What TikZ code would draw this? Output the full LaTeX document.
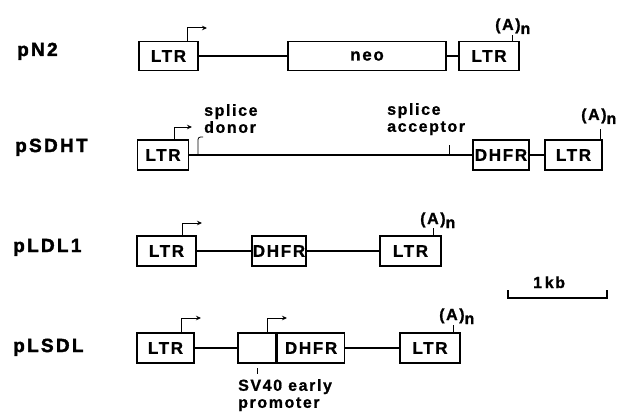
\documentclass[tikz,border=0pt]{standalone}
\usepackage{fontspec}
\setmainfont{Liberation Sans}
\newfontfamily\lblfam{Liberation Sans Bold}[LetterSpace=12,FakeBold=2]
\newfontfamily\boxfam{Liberation Sans Bold}[LetterSpace=10,FakeBold=1]
\usetikzlibrary{arrows.meta}
\begin{document}
\begin{tikzpicture}[x=1pt,y=-1pt,
  box/.style={draw,line width=1.6pt,inner sep=0pt,minimum height=29pt,
    font=\boxfam\fontsize{17}{17}\selectfont},
  lbl/.style={anchor=base west,inner sep=0pt,font=\lblfam\fontsize{19}{19}\selectfont},
  ann/.style={inner sep=0pt,align=left,font=\boxfam\fontsize{16}{17}\selectfont},
  ln/.style={line width=1.4pt},
  tick/.style={line width=0.8pt},
  prom/.style={line width=1pt,-{Stealth[length=5pt,width=4.5pt]}}]
\useasboundingbox (0,0) rectangle (623,417);
\newcommand{\polyA}{(A)\raisebox{-4pt}{n}}
% ---------- pN2
\node[lbl] (l1) at (17,56) {pN2};
\node[box,minimum width=59pt] (a1) at (168.5,56) {LTR};
\node[box,minimum width=158pt] (a2) at (367,56) {neo};
\node[box,minimum width=60pt] (a3) at (489,56) {LTR};
\draw[ln] (a1.east) -- (a2.west);
\draw[ln] (a2.east) -- (a3.west);
\coordinate (p1) at (207,28);
\draw[prom] (a1.north -| 187,0) |- (p1);
\coordinate (t1) at (512,35);
\draw[tick] (a3.north -| t1) -- (t1);
\node[ann,anchor=base west] (A1) at (495,30) {\polyA};
% ---------- pSDHT
\node[lbl] (l2) at (15,152) {pSDHT};
\node[box,minimum width=51pt,minimum height=30pt] (b1) at (163,155) {LTR};
\node[box,minimum width=56pt,minimum height=30pt] (b2) at (501,155) {DHFR};
\node[box,minimum width=57pt,minimum height=30pt] (b3) at (573.5,155) {LTR};
\draw[ln] (b1.east) -- (b2.west);
\draw[ln] (b2.east) -- (b3.west);
\coordinate (p2) at (192,127);
\draw[prom] (b1.north -| 174,0) |- (p2);
\coordinate (sd) at (203,137);
\draw[tick,rounded corners=2.5pt] (198,155) |- (sd);
\node[ann,anchor=north west] (sdt) at (204,104) {splice\\donor};
\coordinate (sa) at (449,145);
\draw[tick] (449,155) -- (sa);
\node[ann,anchor=north west] (sat) at (387,103) {splice\\acceptor};
\coordinate (t2) at (600,129);
\draw[tick] (b3.north -| t2) -- (t2);
\node[ann,anchor=base west] (A2) at (581,120) {\polyA};
% ---------- pLDL1
\node[lbl] (l3) at (13,252) {pLDL1};
\node[box,minimum width=59pt,minimum height=30pt] (c1) at (166.5,251) {LTR};
\node[box,minimum width=54pt,minimum height=30pt] (c2) at (279,251) {DHFR};
\node[box,minimum width=61pt,minimum height=30pt] (c3) at (410.5,251) {LTR};
\draw[ln] (c1.east) -- (c2.west);
\draw[ln] (c2.east) -- (c3.west);
\coordinate (p3) at (202,223);
\draw[prom] (c1.north -| 182,0) |- (p3);
\coordinate (t3) at (433,228);
\draw[tick] (c3.north -| t3) -- (t3);
\node[ann,anchor=base west] (A3) at (420,224) {\polyA};
% ---------- scale bar
\node[ann,anchor=base west] (kb) at (533,288) {1\,kb};
\coordinate (s1) at (508,290);
\coordinate (s1b) at (508,298);
\coordinate (s2b) at (607,298);
\coordinate (s2) at (607,290);
\draw[line width=1.2pt] (s1) -- (s1b) -- (s2b) -- (s2);
% ---------- pLSDL
\node[lbl] (l4) at (13,352) {pLSDL};
\node[box,minimum width=57pt,minimum height=30pt] (d1) at (165.5,348) {LTR};
\node[box,minimum width=38pt,minimum height=30pt] (d2) at (257,348) {};
\node[box,minimum width=67pt,minimum height=30pt,anchor=west] (d3) at (d2.east) {DHFR};
\node[box,minimum width=60pt,minimum height=30pt] (d4) at (430,348) {LTR};
\draw[ln] (d1.east) -- (d2.west);
\draw[ln] (d3.east) -- (d4.west);
\coordinate (p4) at (201,318);
\draw[prom] (d1.north -| 181,0) |- (p4);
\coordinate (p5) at (287,318);
\draw[prom] (d2.north -| 267,0) |- (p5);
\coordinate (sv1) at (257,368);
\coordinate (sv2) at (257,374);
\draw[tick] (sv1) -- (sv2);
\node[ann,anchor=north west] (svt) at (238,379) {SV40 early\\promoter};
\coordinate (t4) at (453,325);
\draw[tick] (d4.north -| t4) -- (t4);
\node[ann,anchor=base west] (A4) at (439,320) {\polyA};
\end{tikzpicture}
\end{document}
